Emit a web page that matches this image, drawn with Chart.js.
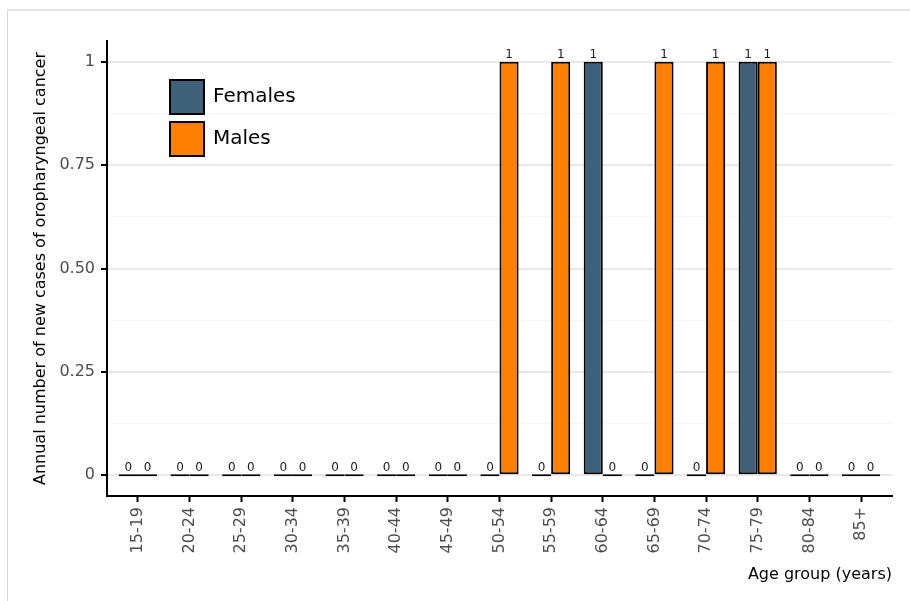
<!DOCTYPE html>
<html><head><meta charset="utf-8">
<script src="https://cdn.jsdelivr.net/npm/chart.js@4.4.1/dist/chart.umd.min.js"></script>
<style>
html,body{margin:0;padding:0;background:#fff;overflow:hidden;width:910px;height:601px;}
#frame{position:absolute;left:7px;top:9px;width:1000px;height:700px;border-top:2px solid #e4e4e4;border-left:1px solid #d8d8d8;}
#wrap{position:absolute;left:0;top:0;width:910px;height:601px;}
</style></head><body>
<div id="frame"></div>
<div id="wrap"><canvas id="c" width="910" height="601"></canvas></div>
<script>
const ageGroups = ['15-19','20-24','25-29','30-34','35-39','40-44','45-49','50-54','55-59','60-64','65-69','70-74','75-79','80-84','85+'];
const females = [0,0,0,0,0,0,0,0,0,1,0,0,1,0,0];
const males   = [0,0,0,0,0,0,0,1,1,0,1,1,1,0,0];
const seriesNames = ['Females','Males'];
const seriesColors = ['#3e6079','#ff8000'];
const yTickValues = [0,0.25,0.5,0.75,1];
const yTickLabels = ['0','0.25','0.50','0.75','1'];
const yMinorValues = [0.125,0.375,0.625,0.875];
const xTitle = 'Age group (years)';
const yTitle = 'Annual number of new cases of oropharyngeal cancer';

const FONT = 'DejaVu Sans';

const valueLabels = {
  id: 'valueLabels',
  afterDatasetsDraw(chart) {
    const ctx = chart.ctx;
    ctx.save();
    ctx.font = '12px "' + FONT + '"';
    ctx.fillStyle = '#1a1a1a';
    ctx.textAlign = 'center';
    ctx.textBaseline = 'bottom';
    chart.data.datasets.forEach((ds, di) => {
      const meta = chart.getDatasetMeta(di);
      meta.data.forEach((bar, i) => {
        const top = Math.min(bar.y, bar.base);
        ctx.fillText(String(ds.data[i].y), bar.x, top - 0.5);
      });
    });
    ctx.restore();
  }
};

const boxLegend = {
  id: 'boxLegend',
  afterDatasetsDraw(chart) {
    const ctx = chart.ctx;
    const a = chart.chartArea;
    ctx.save();
    chart.data.datasets.forEach((ds, i) => {
      const x = a.left + 63, y = a.top + 39 + i * 42;
      ctx.fillStyle = ds.backgroundColor;
      ctx.fillRect(x, y, 34, 34);
      ctx.lineWidth = 2;
      ctx.strokeStyle = '#000';
      ctx.strokeRect(x, y, 34, 34);
      ctx.fillStyle = '#000';
      ctx.font = '20px "' + FONT + '"';
      ctx.textAlign = 'left';
      ctx.textBaseline = 'middle';
      ctx.fillText(ds.label, x + 43, y + 17);
    });
    ctx.restore();
  }
};

const isMajor = v => yTickValues.some(t => Math.abs(t - v) < 1e-9);

new Chart(document.getElementById('c'), {
  type: 'bar',
  data: {
    datasets: [
      { label: seriesNames[0], data: females.map((v, i) => ({x: i, y: v})), backgroundColor: seriesColors[0] },
      { label: seriesNames[1], data: males.map((v, i) => ({x: i, y: v})), backgroundColor: seriesColors[1] }
    ]
  },
  options: {
    responsive: false,
    animation: false,
    devicePixelRatio: 1,
    layout: { padding: { top: 41, right: 18, left: 0, bottom: 0 } },
    plugins: { legend: { display: false }, tooltip: { enabled: false } },
    datasets: { bar: { categoryPercentage: 0.74, barPercentage: 1, borderWidth: 2, borderColor: '#000', borderSkipped: false, minBarLength: 2 } },
    scales: {
      x: {
        type: 'linear', min: -0.6, max: 14.6, offset: false,
        afterBuildTicks: s => { s.ticks = ageGroups.map((_, i) => ({ value: i })); },
        afterFit: s => { s.height = 105; },
        ticks: { autoSkip: false, maxRotation: 90, minRotation: 90, padding: 5, color: '#4d4d4d',
          font: { family: FONT, size: 16 }, callback: v => ageGroups[v] },
        grid: { display: true, offset: false, drawOnChartArea: false, drawTicks: true, tickLength: 6, tickColor: '#000', tickWidth: 2 },
        border: { display: true, color: '#000', width: 2 },
        title: { display: true, text: xTitle, align: 'end', color: '#000', font: { family: FONT, size: 16 }, padding: { top: 0, bottom: 17 } }
      },
      y: {
        min: -0.05, max: 1.05,
        afterBuildTicks: s => { s.ticks = [...yTickValues, ...yMinorValues].sort((a, b) => a - b).map(v => ({ value: v })); },
        afterFit: s => { s.width = 107; },
        ticks: { padding: 6, color: '#4d4d4d', font: { family: FONT, size: 16 },
          callback: v => { const k = yTickValues.findIndex(t => Math.abs(t - v) < 1e-9); return k >= 0 ? yTickLabels[k] : ''; } },
        grid: {
          color: c => (c.tick && isMajor(c.tick.value)) ? '#e8e8e8' : '#f6f6f6',
          lineWidth: c => (c.tick && isMajor(c.tick.value)) ? 2 : 1,
          tickColor: c => (c.tick && isMajor(c.tick.value)) ? '#000' : 'rgba(0,0,0,0)',
          tickLength: 6, tickWidth: 2
        },
        border: { display: true, color: '#000', width: 2 },
        title: { display: true, text: yTitle, color: '#000', font: { family: FONT, size: 16 }, padding: { top: 31, bottom: 0 } }
      }
    }
  },
  plugins: [valueLabels, boxLegend]
});
</script>
</body></html>
